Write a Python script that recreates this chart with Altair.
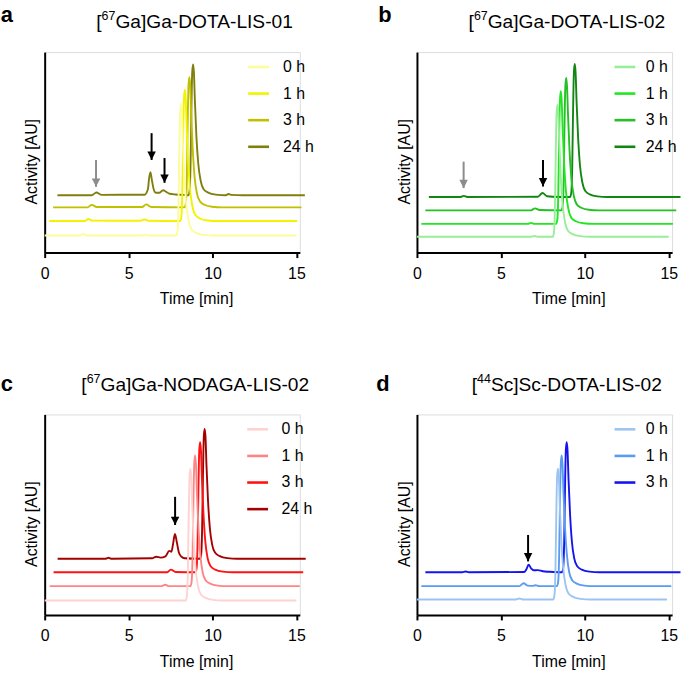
import altair as alt
import pandas as pd

FONT = "Liberation Sans"

# ---------------- shared axes ----------------
TIME_TICKS = [0, 5, 10, 15]
TIME_MAX = 15.2
ACT_MAX = 202          # top of the activity axis (AU)
PLOT_W, PLOT_H = 257, 202

# Traces: (time [min], signal above the trace's own baseline [AU]).
# Each later time point is drawn offset right/up (stacked "3D" view).

# ---------------- a: [67Ga]Ga-DOTA-LIS-01 ----------------
A_LABELS = ["0 h", "1 h", "3 h", "24 h"]
A_COLORS = ["#fcfc98", "#f3f300", "#c0c000", "#7f7f10"]
A_BASELINES = [17.3, 31.8, 45.6, 57.8]
A_0H = [(0, 0), (2.1, 0), (2.3, 1.5), (2.5, 0), (5.8, 0), (6.0, 0.8), (6.2, 0),
        (7.84, 0), (7.91, 4), (7.97, 30), (8.02, 84), (8.07, 124), (8.12, 132.7), (8.17, 125), (8.23, 95),
        (8.32, 60), (8.43, 32), (8.57, 15), (8.75, 6), (9.02, 2.6), (9.47, 0.6), (10.07, 0), (15.0, 0)]
A_1H = [(0.27, 0), (2.4, 0), (2.6, 2), (2.85, 0.4), (5.7, 0.3), (5.95, 1.5), (6.2, 0.3),
        (8.07, 0), (8.14, 4), (8.20, 30), (8.25, 84), (8.30, 124), (8.35, 132.4), (8.40, 124), (8.46, 95),
        (8.55, 60), (8.66, 32), (8.80, 15), (8.98, 6), (9.25, 2.6), (9.70, 0.6), (10.3, 0), (15.05, 0)]
A_3H = [(0.5, 0), (2.55, 0), (2.8, 2.5), (3.1, 0.4), (5.8, 0.3), (6.05, 3), (6.35, 0.4),
        (8.34, 0), (8.41, 4), (8.47, 30), (8.52, 84), (8.57, 123), (8.62, 131), (8.67, 123), (8.73, 94),
        (8.82, 59), (8.93, 31), (9.07, 14), (9.25, 6), (9.52, 2.6), (9.97, 0.6), (10.57, 0), (15.3, 0)]
A_24H = [(0.76, 0), (2.8, 0), (3.08, 2.7), (3.4, 0.4), (5.95, 0.5), (6.15, 6), (6.22, 17), (6.3, 23.3),
         (6.38, 16), (6.48, 7), (6.62, 2.5), (6.85, 2.5), (7.0, 4.6), (7.08, 5), (7.2, 3.8), (7.45, 1.5),
         (7.8, 0.8), (8.3, 0.3),
         (8.56, 0), (8.63, 4), (8.69, 30), (8.74, 84), (8.79, 124), (8.84, 131.7), (8.89, 124), (8.95, 95),
         (9.04, 59), (9.15, 32), (9.29, 15), (9.47, 6), (9.74, 2.6), (10.19, 0.6), (10.79, 0),
         (10.95, 1.2), (11.1, 0.4), (11.8, 0), (15.5, 0)]
A_ARROW_T = [3.06, 6.37, 7.14]
A_ARROW_TOP = [93.3, 120.3, 95.3]
A_ARROW_TIP = [66.3, 93.3, 70.3]
A_ARROW_COLOR = ["#8c8c8c", "#000000", "#000000"]

# ---------------- b: [67Ga]Ga-DOTA-LIS-02 ----------------
B_LABELS = ["0 h", "1 h", "3 h", "24 h"]
B_COLORS = ["#98ee98", "#22e622", "#25c025", "#138513"]
B_BASELINES = [16.0, 29.0, 42.6, 56.0]
B_0H = [(0, 0), (6.8, 0), (7.0, 0.8), (7.2, 0),
        (8.09, 0), (8.16, 4), (8.22, 30), (8.27, 85), (8.32, 125), (8.37, 133), (8.42, 125), (8.48, 96),
        (8.57, 60), (8.68, 32), (8.82, 15), (9.0, 6), (9.27, 2.6), (9.72, 0.6), (10.32, 0), (15.0, 0)]
B_1H = [(0.26, 0), (6.6, 0), (6.8, 1), (7.0, 0),
        (8.29, 0), (8.36, 4), (8.42, 30), (8.47, 85), (8.52, 125), (8.57, 133.6), (8.62, 125), (8.68, 96),
        (8.77, 60), (8.88, 32), (9.02, 15), (9.2, 6), (9.47, 2.6), (9.92, 0.6), (10.52, 0), (15.25, 0)]
B_3H = [(0.5, 0), (6.8, 0), (7.03, 2), (7.3, 0.3),
        (8.61, 0), (8.68, 4), (8.74, 30), (8.79, 85), (8.84, 125), (8.89, 133.4), (8.94, 125), (9.0, 96),
        (9.09, 60), (9.2, 32), (9.34, 15), (9.52, 6), (9.79, 2.6), (10.24, 0.6), (10.84, 0), (15.45, 0)]
B_24H = [(0.71, 0), (2.6, 0), (2.79, 1.2), (3.0, 0), (7.2, 0.3), (7.48, 4), (7.75, 0.8), (8.1, 0.3),
         (9.12, 0), (9.19, 4), (9.25, 30), (9.30, 86), (9.35, 126), (9.40, 134), (9.45, 126), (9.51, 96),
         (9.60, 60), (9.71, 32), (9.85, 15), (10.03, 6), (10.3, 2.6), (10.75, 0.6), (11.35, 0), (15.7, 0)]
B_ARROW_T = [2.78, 7.51]
B_ARROW_TOP = [91.6, 93.3]
B_ARROW_TIP = [65.0, 66.6]
B_ARROW_COLOR = ["#8c8c8c", "#000000"]

# ---------------- c: [67Ga]Ga-NODAGA-LIS-02 ----------------
C_LABELS = ["0 h", "1 h", "3 h", "24 h"]
C_COLORS = ["#ffd2d2", "#ff8585", "#ff1212", "#a30000"]
C_BASELINES = [14.6, 29.0, 43.0, 56.6]
C_0H = [(0, 0),
        (8.40, 0), (8.47, 4), (8.53, 30), (8.58, 84), (8.63, 124), (8.68, 132.7), (8.73, 125), (8.79, 95),
        (8.88, 60), (8.99, 32), (9.13, 15), (9.31, 6), (9.58, 2.6), (10.03, 0.6), (10.63, 0), (15.0, 0)]
C_1H = [(0.3, 0), (6.95, 0), (7.17, 1.5), (7.4, 0),
        (8.68, 0), (8.75, 4), (8.81, 30), (8.86, 84), (8.91, 123), (8.96, 131.6), (9.01, 123), (9.07, 94),
        (9.16, 59), (9.27, 32), (9.41, 14), (9.59, 6), (9.86, 2.6), (10.31, 0.6), (10.91, 0), (15.2, 0)]
C_3H = [(0.53, 0), (7.3, 0), (7.52, 2.7), (7.8, 0.3),
        (8.98, 0), (9.05, 4), (9.11, 30), (9.16, 84), (9.21, 123), (9.26, 131), (9.31, 123), (9.37, 94),
        (9.46, 59), (9.57, 31), (9.71, 14), (9.89, 6), (10.16, 2.6), (10.61, 0.6), (11.21, 0), (15.4, 0)]
C_24H = [(0.77, 0), (3.6, 0), (3.8, 1), (4.0, 0), (6.4, 0.5), (6.64, 2), (6.9, 1.2), (7.2, 2.5), (7.42, 8),
         (7.55, 7), (7.65, 15), (7.76, 25), (7.88, 16), (8.0, 6), (8.15, 2), (8.35, 0.5),
         (9.25, 0), (9.32, 4), (9.38, 30), (9.43, 84), (9.48, 123), (9.53, 130.7), (9.58, 123), (9.64, 94),
         (9.73, 59), (9.84, 31), (9.98, 14), (10.16, 6), (10.43, 2.6), (10.88, 0.6), (11.48, 0), (15.55, 0)]
C_ARROW_T = [7.77]
C_ARROW_TOP = [119.0]
C_ARROW_TIP = [90.6]
C_ARROW_COLOR = ["#000000"]

# ---------------- d: [44Sc]Sc-DOTA-LIS-02 ----------------
D_LABELS = ["0 h", "1 h", "3 h"]
D_COLORS = ["#9cc4f2", "#5a9cf0", "#1414ee"]
D_BASELINES = [15.6, 29.0, 43.0]
D_0H = [(0, 0), (5.9, 0), (6.1, 1), (6.3, 0),
        (8.12, 0), (8.19, 4), (8.25, 30), (8.30, 84), (8.35, 124), (8.40, 131.7), (8.45, 124), (8.51, 95),
        (8.60, 59), (8.71, 32), (8.85, 15), (9.03, 6), (9.3, 2.6), (9.75, 0.6), (10.35, 0), (14.9, 0)]
D_1H = [(0.26, 0), (6.1, 0), (6.35, 3), (6.6, 0.5), (6.9, 0.3), (7.05, 1), (7.3, 0),
        (8.34, 0), (8.41, 4), (8.47, 30), (8.52, 84), (8.57, 123), (8.62, 131.6), (8.67, 123), (8.73, 94),
        (8.82, 59), (8.93, 32), (9.07, 14), (9.25, 6), (9.52, 2.6), (9.97, 0.6), (10.57, 0), (15.15, 0)]
D_3H = [(0.5, 0), (2.7, 0), (2.9, 0.8), (3.1, 0), (6.4, 0.3), (6.52, 3), (6.65, 7.6), (6.8, 4), (6.95, 2),
        (7.2, 2.2), (7.5, 1), (7.9, 0.5),
        (8.64, 0), (8.71, 4), (8.77, 30), (8.82, 84), (8.87, 123), (8.92, 131), (8.97, 123), (9.03, 94),
        (9.12, 59), (9.23, 31), (9.37, 14), (9.55, 6), (9.82, 2.6), (10.27, 0.6), (10.87, 0), (15.7, 0)]
D_ARROW_T = [6.62]
D_ARROW_TOP = [80.6]
D_ARROW_TIP = [54.0]
D_ARROW_COLOR = ["#000000"]

# panel headings: letter, "[", superscript mass number, rest of the name
PANEL_LETTERS = ["a", "b", "c", "d"]
TITLE_SUP = ["67", "67", "67", "44"]
TITLE_REST = ["Ga]Ga-DOTA-LIS-01", "Ga]Ga-DOTA-LIS-02", "Ga]Ga-NODAGA-LIS-02", "Sc]Sc-DOTA-LIS-02"]

# Arial / Liberation Sans advance widths (em) used to lay out the composed headings
ADV = {"[": .278, "]": .278, "-": .333, "G": .778, "a": .556, "D": .722, "O": .778, "T": .611,
       "A": .667, "L": .556, "I": .278, "S": .667, "N": .722, "c": .5}
for d in "0123456789":
    ADV[d] = .556


def text_w(s, size):
    return sum(ADV[ch] for ch in s) * size


TITLE_SIZE, SUP_SIZE = 19.3, 12.5


def trace_frame(labels, baselines, traces):
    rows = []
    for lab, base, tr in zip(labels, baselines, traces):
        for k, (t, v) in enumerate(tr):
            rows.append({"series": lab, "t": t, "y": base + v, "base": base, "i": k})
    return pd.DataFrame(rows)


def panel(idx, labels, colors, baselines, traces, arr_t, arr_top, arr_tip, arr_col,
          legend_x, label_offset, letter_x, letter_y, title_y):
    df = trace_frame(labels, baselines, traces)
    xs = alt.Scale(domain=[0, TIME_MAX], nice=False, zero=False)
    ys = alt.Scale(domain=[0, ACT_MAX], nice=False, zero=False)
    x_axis = alt.Axis(values=TIME_TICKS, format="d", title="Time [min]", grid=False,
                      domainColor="black", domainWidth=2, tickColor="black", tickWidth=2, tickSize=5,
                      labelFont=FONT, labelFontSize=16, labelColor="black", labelFlush=False,
                      labelBaseline="alphabetic", labelPadding=21,
                      titleFont=FONT, titleFontSize=16, titleFontWeight="normal", titleColor="black",
                      titleX=152.5, titleY=51.7, titleAlign="center", titleBaseline="alphabetic")
    y_axis = alt.Axis(title="Activity [AU]", ticks=False, labels=False, grid=False,
                      domainColor="black", domainWidth=2,
                      titleFont=FONT, titleFontSize=16, titleFontWeight="normal", titleColor="black",
                      titleX=-8, titleY=110, titleAngle=270, titleAlign="center",
                      titleBaseline="alphabetic")
    X = alt.X("t:Q", scale=xs, axis=x_axis)
    Y = alt.Y("y:Q", scale=ys, axis=y_axis)
    color = alt.Color("series:N", scale=alt.Scale(domain=labels, range=colors),
                      legend=alt.Legend(orient="none", legendX=legend_x, legendY=3.0, title=None,
                                        symbolType="stroke", symbolSize=441, symbolStrokeWidth=2.6,
                                        labelFont=FONT, labelFontSize=16, labelColor="black",
                                        labelOffset=label_offset, rowPadding=6.8, padding=0))
    layers = []
    # back (latest) trace first; each trace hides what lies below it
    for k in reversed(range(len(labels))):
        src = alt.Chart(df).transform_filter(alt.datum.series == labels[k])
        layers.append(src.mark_area(color="white", opacity=1, interpolate="monotone").encode(
            x=X, y=Y, y2="base:Q", order="i:Q"))
        layers.append(src.mark_line(strokeWidth=1.9, interpolate="monotone").encode(
            x=X, y=Y, color=color, order="i:Q"))

    arrows = pd.DataFrame({"t": arr_t, "top": arr_top, "tip": arr_tip, "c": arr_col})
    layers.append(alt.Chart(arrows).mark_rule(strokeWidth=2).encode(
        x=alt.X("t:Q", scale=xs), y=alt.Y("top:Q", scale=ys), y2="tip:Q",
        color=alt.Color("c:N", scale=None)))
    layers.append(alt.Chart(arrows).mark_point(shape="M-1,-1L1,-1L0,1Z", filled=True, size=72,
                                               opacity=1, yOffset=-4.2).encode(
        x=alt.X("t:Q", scale=xs), y=alt.Y("tip:Q", scale=ys),
        color=alt.Color("c:N", scale=None)))

    # heading: bold panel letter + "[", superscript, name
    one = pd.DataFrame({"k": [0]})
    w_open = text_w("[", TITLE_SIZE)
    w_sup = text_w(TITLE_SUP[idx], SUP_SIZE)
    w_rest = text_w(TITLE_REST[idx], TITLE_SIZE)
    x0 = 151.7 - (w_open + w_sup + w_rest) / 2
    layers.append(alt.Chart(one).mark_text(font=FONT, fontSize=22, fontWeight="bold", align="left",
                                           baseline="alphabetic", color="black").encode(
        x=alt.value(letter_x), y=alt.value(letter_y), text=alt.value(PANEL_LETTERS[idx])))
    layers.append(alt.Chart(one).mark_text(font=FONT, fontSize=TITLE_SIZE, align="left",
                                           baseline="alphabetic", color="black").encode(
        x=alt.value(x0), y=alt.value(title_y), text=alt.value("[")))
    layers.append(alt.Chart(one).mark_text(font=FONT, fontSize=SUP_SIZE, align="left",
                                           baseline="alphabetic", color="black").encode(
        x=alt.value(x0 + w_open), y=alt.value(title_y - 8), text=alt.value(TITLE_SUP[idx])))
    layers.append(alt.Chart(one).mark_text(font=FONT, fontSize=TITLE_SIZE, align="left",
                                           baseline="alphabetic", color="black").encode(
        x=alt.value(x0 + w_open + w_sup), y=alt.value(title_y), text=alt.value(TITLE_REST[idx])))

    return alt.layer(*layers).properties(width=PLOT_W, height=PLOT_H)


pa = panel(0, A_LABELS, A_COLORS, A_BASELINES, [A_0H, A_1H, A_3H, A_24H],
           A_ARROW_T, A_ARROW_TOP, A_ARROW_TIP, A_ARROW_COLOR,
           legend_x=203.5, label_offset=12.5, letter_x=-44.3, letter_y=-30.5, title_y=-24.5)
pb = panel(1, B_LABELS, B_COLORS, B_BASELINES, [B_0H, B_1H, B_3H, B_24H],
           B_ARROW_T, B_ARROW_TOP, B_ARROW_TIP, B_ARROW_COLOR,
           legend_x=197.5, label_offset=9, letter_x=-39, letter_y=-30.5, title_y=-24.5)
pc = panel(2, C_LABELS, C_COLORS, C_BASELINES, [C_0H, C_1H, C_3H, C_24H],
           C_ARROW_T, C_ARROW_TOP, C_ARROW_TIP, C_ARROW_COLOR,
           legend_x=202.5, label_offset=12, letter_x=-44.3, letter_y=-23.4, title_y=-23.4)
pd_ = panel(3, D_LABELS, D_COLORS, D_BASELINES, [D_0H, D_1H, D_3H],
            D_ARROW_T, D_ARROW_TOP, D_ARROW_TIP, D_ARROW_COLOR,
            legend_x=197.5, label_offset=9, letter_x=-41, letter_y=-23.4, title_y=-23.4)

chart = alt.concat(pa, pb, pc, pd_, columns=2, spacing={"row": 163, "column": 118}, bounds="flush") \
    .resolve_scale(color="independent") \
    .properties(padding={"left": 0, "top": 1, "right": 0, "bottom": 0}) \
    .configure_view(stroke=None) \
    .configure_axis(labelFont=FONT, titleFont=FONT, labelFontSize=16, titleFontSize=16) \
    .configure(background="white")

chart.save("out.html", embed_options={"renderer": "svg", "actions": False})
